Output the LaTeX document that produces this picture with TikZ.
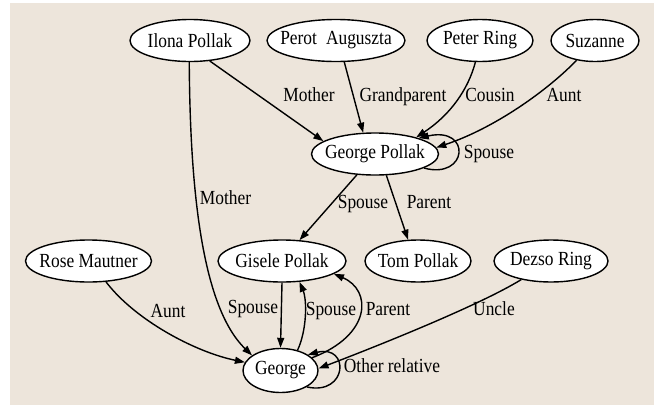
\documentclass[tikz,border=0pt]{standalone}
\usepackage{fontspec}
\setmainfont{Liberation Serif}[FakeStretch=0.87]
\usetikzlibrary{shapes.geometric,arrows.meta}
\definecolor{paper}{RGB}{237,229,219}
% zero-width box so the ellipse size comes from minimum width/height only
\newcommand{\nbox}[1]{\makebox[0pt]{#1}}

\begin{document}
\begin{tikzpicture}[x=1pt,y=-1pt,
  person/.style={ellipse, draw=black, fill=white, line width=1.4pt, inner sep=0pt,
                 minimum height=42pt, font=\fontsize{20}{23}\selectfont},
  rel/.style={draw=black, line width=1.4pt, -{Triangle[length=10pt,width=7pt]}},
  lbl/.style={font=\fontsize{20}{23}\selectfont, inner sep=0pt,
              text height=1.5ex, text depth=0.25ex}]
\useasboundingbox (0,0) rectangle (654,405);
\fill[white] (0,0) rectangle (654,405);
\fill[paper] (10,3) rectangle (654,405);

% people
\node[person, minimum width=120pt] (ilona)  at (190,40.5)  {\nbox{Ilona Pollak}};
\node[person, minimum width=138pt] (perot)  at (336,40.5)  {\nbox{Perot\hspace{0.45em}Auguszta}};
\node[person, minimum width=106pt] (peter)  at (480,40.5)  {\nbox{Peter Ring}};
\node[person, minimum width=88pt]  (suz)    at (595,40.5)  {\nbox{Suzanne}};
\node[person, minimum width=127pt] (gp)     at (375,154)   {\nbox{George Pollak}};
\node[person, minimum width=126pt] (rose)   at (88.5,261)  {\nbox{Rose Mautner}};
\node[person, minimum width=128pt] (gisele) at (282,261)   {\nbox{Gisele Pollak}};
\node[person, minimum width=106pt] (tom)    at (418,261)   {\nbox{Tom Pollak}};
\node[person, minimum width=114pt] (dezso)  at (551,261)   {\nbox{Dezso Ring}};
\node[person, minimum width=75pt, minimum height=44pt] (george) at (280.5,370.5) {\nbox{George}};

% relations into George Pollak
\draw[rel] (ilona.-46) -- (gp.166);
\draw[rel] (perot.-69) -- (gp.119);
\draw[rel] (peter.-102) .. controls (468,90) and (450,115) .. (gp.22);
\draw[rel] (suz.-133) .. controls (548,90) and (495,128) .. (gp.6);
\draw[rel] (gp.-16) .. controls (468,180) and (472,126) .. (gp.20);

% relations out of George Pollak
\draw[rel] (gp.-131) -- (gisele.50);
\draw[rel] (gp.-62) -- (tom.115);

% relations around George
\draw[rel] (ilona.-92) .. controls (190,180) and (200,305) .. (george.152);
\draw[rel] (rose.-50) .. controls (135,320) and (195,352) .. (george.167);
\draw[rel] (gisele.-90) -- (george.90);
\draw[rel] (george.50) .. controls (307,330) and (307,300) .. (gisele.-50);
\draw[rel] (george.22) .. controls (372,335) and (372,290) .. (gisele.-14);
\draw[rel] (dezso.-148) .. controls (480,305) and (380,345) .. (george.3);
\draw[rel] (george.-32) .. controls (348,396) and (350,344) .. (george.30);

% relation labels
\node[lbl] (lmother1) at (309,99)    {Mother};
\node[lbl] (lgrand)   at (403,99)    {Grandparent};
\node[lbl] (lcousin)  at (490,99)    {Cousin};
\node[lbl] (launt1)   at (564,99)    {Aunt};
\node[lbl] (lspouse0) at (489,155.5) {Spouse};
\node[lbl] (lmother2) at (225.5,202) {Mother};
\node[lbl] (lspouse1) at (363,206)   {Spouse};
\node[lbl] (lparent1) at (429,206)   {Parent};
\node[lbl] (launt2)   at (168,315)   {Aunt};
\node[lbl] (lspouse2) at (253,311)   {Spouse};
\node[lbl] (lspouse3) at (331,313)   {Spouse};
\node[lbl] (lparent2) at (388,313)   {Parent};
\node[lbl] (luncle)   at (494,313)   {Uncle};
\node[lbl] (lother)   at (392,370)   {Other relative};
\end{tikzpicture}
\end{document}
